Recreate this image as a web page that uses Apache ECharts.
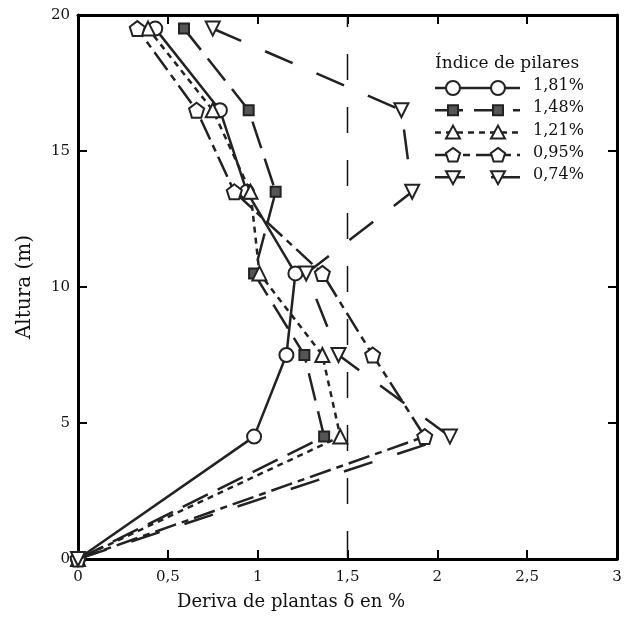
<!DOCTYPE html>
<html>
<head>
<meta charset="utf-8">
<script src="https://cdn.jsdelivr.net/npm/echarts@6/dist/echarts.min.js"></script>
<style>
  html, body { margin: 0; padding: 0; background: #fff; }
  #chart { width: 633px; height: 617px; }
</style>
</head>
<body>
<div id="chart"></div>
<script>
// Storey heights (m) at which drift was measured
const alturas = [0, 4.5, 7.5, 10.5, 13.5, 16.5, 19.5];

// Inter-storey drift (%) for each column-density index
const deriva181 = [0, 0.98, 1.16, 1.21, 0.94, 0.79, 0.43];
const deriva148 = [0, 1.37, 1.26, 0.98, 1.10, 0.95, 0.59];
const deriva121 = [0, 1.46, 1.36, 1.01, 0.96, 0.75, 0.39];
const deriva095 = [0, 1.93, 1.64, 1.36, 0.87, 0.66, 0.33];
const deriva074 = [0, 2.07, 1.45, 1.27, 1.86, 1.80, 0.75];

const indices = ['1,81%', '1,48%', '1,21%', '0,95%', '0,74%'];
const limiteDeriva = 1.5;

const xTicks = { min: 0, max: 3, interval: 0.5 };
const yTicks = { min: 0, max: 20, interval: 5 };

const FONT = 'DejaVu Serif';
const INK = '#222';

const PENTAGON = 'path://M0,-10 L9.51,-3.09 L5.88,8.09 L-5.88,8.09 L-9.51,-3.09 Z';
const DOWN_TRI = 'path://M0,0 L10,0 L5,9 Z';

const styles = [
  { data: deriva181, symbol: 'circle', size: 14, fill: '#fff', dash: 'solid' },
  { data: deriva148, symbol: 'rect', size: 10, fill: '#555', dash: [28, 11] },
  { data: deriva121, symbol: 'triangle', size: 14, fill: '#fff', dash: [6, 5] },
  { data: deriva095, symbol: PENTAGON, size: 15, fill: '#fff', dash: [22, 6, 7, 6] },
  { data: deriva074, symbol: DOWN_TRI, size: 14, fill: '#fff', dash: [30, 26] }
];

const series = styles.map((s, i) => ({
  name: indices[i],
  type: 'line',
  data: s.data.map((x, k) => [x, alturas[k]]),
  symbol: s.symbol,
  symbolSize: s.size,
  showAllSymbol: true,
  lineStyle: { color: INK, width: 2.5, type: s.dash },
  itemStyle: { color: s.fill, borderColor: INK, borderWidth: 2 },
  emphasis: { disabled: true },
  animation: false,
  z: 3 + i
}));

// Drift limit drawn as a long-dashed vertical reference line
series.push({
  name: 'limite',
  type: 'line',
  data: [[limiteDeriva, yTicks.min], [limiteDeriva, yTicks.max]],
  symbol: 'none',
  lineStyle: { color: '#111', width: 1.5, type: [26, 27], dashOffset: -2 },
  silent: true,
  animation: false,
  z: 2
});

// Legend drawn as graphics: a line sample with two markers per entry
const legendX0 = 435, legendX1 = 520, mA = 453, mB = 498, legendY0 = 88, legendDy = 22.3;
function markerShape(kind, cx, cy, fill) {
  const st = { fill: fill, stroke: INK, lineWidth: 2 };
  if (kind === 'circle') return { type: 'circle', shape: { cx, cy, r: 7 }, style: st, z: 20 };
  if (kind === 'rect') return { type: 'rect', shape: { x: cx - 5, y: cy - 5, width: 10, height: 10 }, style: st, z: 20 };
  if (kind === 'triangle') return { type: 'polygon', shape: { points: [[cx, cy - 7], [cx + 7, cy + 6], [cx - 7, cy + 6]] }, style: st, z: 20 };
  if (kind === 'pentagon') {
    const pts = [];
    for (let k = 0; k < 5; k++) {
      const a = -Math.PI / 2 + k * 2 * Math.PI / 5;
      pts.push([cx + 7.5 * Math.cos(a), cy + 0.5 + 7.5 * Math.sin(a)]);
    }
    return { type: 'polygon', shape: { points: pts }, style: st, z: 20 };
  }
  return { type: 'polygon', shape: { points: [[cx - 7, cy - 6], [cx + 7, cy - 6], [cx, cy + 7]] }, style: st, z: 20 };
}
const kinds = ['circle', 'rect', 'triangle', 'pentagon', 'down'];
const legendGraphics = [{
  type: 'text', left: 435, top: 55, z: 20,
  style: { text: 'Índice de pilares', font: '17px "' + FONT + '"', fill: '#111' }
}];
styles.forEach((s, i) => {
  const y = legendY0 + i * legendDy;
  legendGraphics.push({
    type: 'line', z: 19,
    shape: { x1: legendX0, y1: y, x2: legendX1, y2: y },
    style: { stroke: INK, lineWidth: 2.5, lineDash: s.dash === 'solid' ? null : s.dash }
  });
  legendGraphics.push(markerShape(kinds[i], mA, y, s.fill));
  legendGraphics.push(markerShape(kinds[i], mB, y, s.fill));
  legendGraphics.push({
    type: 'text', left: 533, top: y - 10, z: 20,
    style: { text: indices[i], font: '16px "' + FONT + '"', fill: '#111' }
  });
});

const axisLineStyle = { color: '#000', width: 3 };
const tickStyle = { inside: true, length: 9, lineStyle: { color: '#000', width: 2 } };
const comma = v => String(v).replace('.', ',');

const option = {
  backgroundColor: '#fff',
  animation: false,
  grid: { left: 78, right: 16, top: 15, bottom: 58, containLabel: false },
  xAxis: [
    {
      type: 'value', position: 'bottom', ...xTicks,
      axisLine: { onZero: false, lineStyle: axisLineStyle },
      axisTick: tickStyle,
      axisLabel: { formatter: comma, fontFamily: FONT, fontSize: 15, color: '#111', margin: 11 },
      splitLine: { show: false }
    },
    {
      type: 'value', position: 'top', ...xTicks,
      axisLine: { onZero: false, lineStyle: axisLineStyle },
      axisTick: tickStyle,
      axisLabel: { show: false },
      splitLine: { show: false }
    }
  ],
  yAxis: [
    {
      type: 'value', position: 'left', ...yTicks,
      axisLine: { onZero: false, lineStyle: axisLineStyle },
      axisTick: tickStyle,
      axisLabel: { fontFamily: FONT, fontSize: 15, color: '#111', margin: 8 },
      splitLine: { show: false }
    },
    {
      type: 'value', position: 'right', ...yTicks,
      axisLine: { onZero: false, lineStyle: axisLineStyle },
      axisTick: tickStyle,
      axisLabel: { show: false },
      splitLine: { show: false }
    }
  ],
  series: series,
  graphic: legendGraphics.concat([
    {
      type: 'text', left: 177, top: 593,
      style: { text: 'Deriva de plantas δ en %', font: '18px "' + FONT + '"', fill: '#111' }
    },
    {
      type: 'text', x: 25, y: 287, rotation: Math.PI / 2,
      style: { text: 'Altura (m)', font: '20px "' + FONT + '"', fill: '#111', align: 'center', verticalAlign: 'middle' }
    }
  ])
};

const chart = echarts.init(document.getElementById('chart'), null, { renderer: 'canvas' });
chart.setOption(option);
</script>
</body>
</html>
